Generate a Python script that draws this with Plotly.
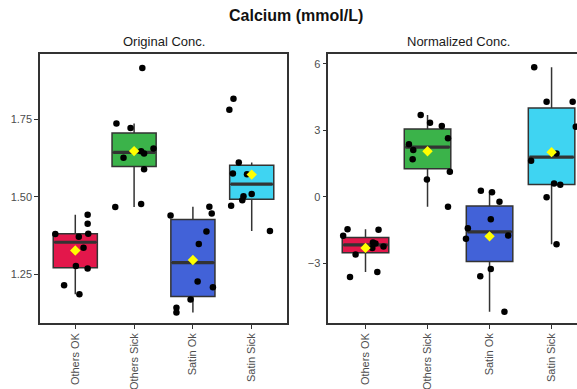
import numpy as np
import plotly.graph_objects as go

categories = ["Others OK", "Others Sick", "Satin Ok", "Satin Sick"]
box_colors = ["#E3174B", "#3BB34A", "#4262D8", "#3FD4F2"]

# Original concentration values (per group) and horizontal jitter
orig_others_ok = [1.380, 1.215, 1.277, 1.371, 1.186, 1.336, 1.269, 1.413, 1.442, 1.381]
orig_others_sick = [1.916, 1.7365, 1.7225, 1.626, 1.647, 1.640, 1.656, 1.589, 1.467, 1.477]
orig_satin_ok = [1.440, 1.468, 1.446, 1.388, 1.348, 1.227, 1.208, 1.169, 1.142, 1.127]
orig_satin_sick = [1.817, 1.781, 1.611, 1.5755, 1.573, 1.502, 1.489, 1.509, 1.471, 1.390]

jit_orig_others_ok = [-0.34, -0.19, 0.01, 0.06, 0.07, 0.14, 0.21, 0.21, 0.21, 0.22]
jit_orig_others_sick = [0.14, -0.30, -0.06, -0.18, 0.12, 0.17, 0.33, 0.17, -0.32, 0.12]
jit_orig_satin_ok = [-0.38, 0.28, 0.32, 0.23, 0.10, 0.08, 0.34, -0.04, -0.28, -0.28]
jit_orig_satin_sick = [-0.31, -0.38, -0.22, -0.32, -0.08, -0.14, -0.16, 0.0, -0.35, 0.31]

# Normalized concentration values
norm_others_ok = [-1.77, -1.47, -3.63, -2.61, -2.325, -2.07, -2.115, -3.405, -1.50, -2.25]
norm_others_sick = [3.69, 3.345, 3.195, 2.64, 2.37, 2.115, 1.695, 1.125, 0.78, -0.45]
norm_satin_ok = [0.27, 0.195, -0.225, -1.02, -1.425, -1.905, -1.755, -3.27, -3.6, -5.205]
norm_satin_sick = [5.85, 4.29, 4.29, 3.165, 1.95, 1.62, 0.6, 0.54, -0.03, -2.145]

jit_norm_others_ok = [-0.36, -0.29, -0.25, -0.16, 0.11, 0.12, 0.16, 0.19, 0.21, 0.29]
jit_norm_others_sick = [-0.11, 0.04, 0.23, 0.33, -0.30, -0.23, -0.24, 0.36, -0.01, 0.33]
jit_norm_satin_ok = [-0.14, 0.04, 0.16, 0.02, -0.35, -0.38, 0.30, 0.02, -0.15, 0.24]
jit_norm_satin_sick = [-0.28, -0.08, 0.34, 0.39, 0.08, -0.33, 0.04, 0.14, -0.08, 0.08]

orig_ticks = [1.25, 1.50, 1.75]
norm_ticks = [-3, 0, 3, 6]

panels = [
    ("x", "y", [orig_others_ok, orig_others_sick, orig_satin_ok, orig_satin_sick],
     [jit_orig_others_ok, jit_orig_others_sick, jit_orig_satin_ok, jit_orig_satin_sick]),
    ("x2", "y2", [norm_others_ok, norm_others_sick, norm_satin_ok, norm_satin_sick],
     [jit_norm_others_ok, jit_norm_others_sick, jit_norm_satin_ok, jit_norm_satin_sick]),
]

BOXW = 0.75
EDGE = "#333333"
fig = go.Figure()

for xa, ya, groups, jits in panels:
    for i, (vals, jit) in enumerate(zip(groups, jits)):
        v = np.array(vals)
        q1, med, q3 = np.percentile(v, [25, 50, 75])
        iqr = q3 - q1
        lo = v[v >= q1 - 1.5 * iqr].min()
        hi = v[v <= q3 + 1.5 * iqr].max()
        fig.add_trace(go.Box(
            x=[i], q1=[q1], median=[med], q3=[q3], lowerfence=[lo], upperfence=[hi],
            width=BOXW, whiskerwidth=0, fillcolor=box_colors[i],
            line=dict(color=EDGE, width=1.5), boxpoints=False,
            xaxis=xa, yaxis=ya, showlegend=False, hoverinfo="skip"))
        fig.add_trace(go.Scatter(
            x=[i - BOXW / 2 + 0.02, i + BOXW / 2 - 0.02], y=[med, med], mode="lines",
            line=dict(color=EDGE, width=3.2), xaxis=xa, yaxis=ya,
            showlegend=False, hoverinfo="skip"))
    for i, (vals, jit) in enumerate(zip(groups, jits)):
        fig.add_trace(go.Scatter(
            x=[i + j for j in jit], y=vals, mode="markers",
            marker=dict(color="black", size=6.5), xaxis=xa, yaxis=ya,
            showlegend=False, cliponaxis=False, hoverinfo="skip"))
    for i, vals in enumerate(groups):
        fig.add_trace(go.Scatter(
            x=[i], y=[float(np.mean(vals))], mode="markers",
            marker=dict(color="#FFFF00", size=8, symbol="diamond"),
            xaxis=xa, yaxis=ya, showlegend=False, cliponaxis=False, hoverinfo="skip"))

W, H = 577, 389
font_tick = dict(family="Liberation Sans, Arial, sans-serif", size=11, color="#4D4D4D")
ydom = [(H - 323) / H, (H - 54) / H]
xax_common = dict(tickvals=list(range(4)), ticktext=categories, tickangle=-90,
                  ticks="outside", ticklen=4, tickwidth=1.2, tickcolor=EDGE,
                  showline=True, linecolor=EDGE, linewidth=1.5, mirror=True,
                  showgrid=False, zeroline=False, tickfont=font_tick)
yax_common = dict(ticks="outside", ticklen=4, tickwidth=1.2, tickcolor=EDGE,
                  showline=True, linecolor=EDGE, linewidth=1.5,
                  showgrid=False, zeroline=False, tickfont=font_tick, domain=ydom)

fig.update_layout(
    width=W, height=H, margin=dict(l=0, r=0, t=0, b=0),
    plot_bgcolor="white", paper_bgcolor="white",
    font=dict(family="Liberation Sans, Arial, sans-serif"),
    xaxis={**xax_common, "domain": [40 / W, 287 / W], "range": [-0.6, 3.6], "anchor": "y"},
    yaxis={**yax_common, "range": [1.093, 1.961], "tickvals": orig_ticks,
           "ticktext": ["%.2f" % t for t in orig_ticks], "mirror": True, "anchor": "x"},
    xaxis2={**xax_common, "domain": [328.3 / W, 1.0], "range": [-0.6, 3.41], "anchor": "y2"},
    yaxis2={**yax_common, "range": [-5.71, 6.45], "tickvals": norm_ticks,
            "mirror": False, "anchor": "x2"},
    annotations=[
        dict(text="<b>Calcium (mmol/L)</b>", x=296 / W, y=(H - 16) / H, xref="paper", yref="paper",
             showarrow=False, xanchor="center", yanchor="middle",
             font=dict(size=16, color="#111111")),
        dict(text="Original Conc.", x=163.5 / W, y=(H - 42) / H, xref="paper", yref="paper",
             showarrow=False, xanchor="center", yanchor="middle",
             font=dict(size=13, color="#1A1A1A")),
        dict(text="Normalized Conc.", x=458 / W, y=(H - 42) / H, xref="paper", yref="paper",
             showarrow=False, xanchor="center", yanchor="middle",
             font=dict(size=13, color="#1A1A1A")),
    ],
)

fig.write_html("out.html")
